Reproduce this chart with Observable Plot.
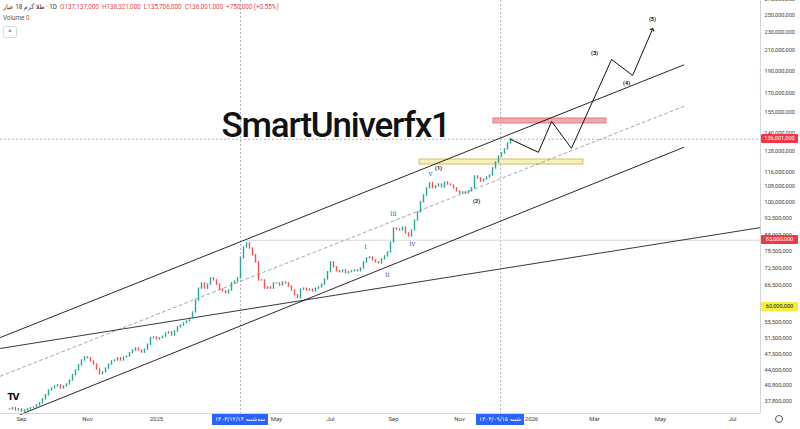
<!DOCTYPE html>
<html><head><meta charset="utf-8">
<script src="https://cdn.jsdelivr.net/npm/d3@7"></script>
<script src="https://cdn.jsdelivr.net/npm/@observablehq/plot@0.6"></script>
<style>
html,body{margin:0;padding:0;background:#fff;}
#wrap{position:relative;width:800px;height:429px;overflow:hidden;font-family:Roboto,"DejaVu Sans",sans-serif;}
#wrap svg{display:block;}
.ov{position:absolute;white-space:nowrap;}
.tag{position:absolute;left:761px;width:37px;height:9px;line-height:9px;font-size:5.6px;text-align:center;border-radius:1px;}
.dlab{position:absolute;top:414px;height:11px;line-height:11px;font-size:5.8px;color:#fff;background:#2962ff;text-align:center;padding:0 3px;font-family:"DejaVu Sans",sans-serif;}
</style></head><body><div id="wrap"></div>
<script>
// ---- data (prices in millions) ----
const firstSession = 3;
const closes = [36.3,36.5,36.1,36.3,35.9,36.1,36.3,36.5,36.6,37.0,
37.4,38.1,38.9,39.8,40.2,40.6,40.8,40.2,40.6,41.0,
41.8,42.9,43.9,45.0,46.1,46.8,46.6,45.9,45.2,44.1,
43.1,43.5,44.3,45.2,45.9,46.1,46.6,46.1,46.8,47.0,
47.8,48.4,48.9,48.4,47.9,48.6,49.8,51.4,51.6,51.1,
51.4,51.8,52.6,52.9,52.1,53.1,54.2,54.7,55.3,55.8,
56.6,58.3,61.8,65.5,67.2,65.5,66.8,68.9,68.2,66.8,
65.2,64.6,64.0,64.9,67.2,67.8,68.9,76.0,80.1,81.7,
79.7,77.1,74.5,68.2,68.2,65.5,65.9,65.5,67.2,67.2,
66.5,67.5,67.2,66.2,64.9,63.4,62.5,65.2,65.5,64.9,
65.2,64.6,65.5,65.9,66.8,68.5,71.0,74.5,72.7,71.3,
71.0,71.6,70.6,71.0,71.3,71.6,71.3,72.3,74.5,76.0,
76.3,75.2,74.5,74.1,75.6,76.7,78.2,82.1,87.9,87.5,
87.1,88.3,85.8,84.6,87.1,91.4,95.1,99.9,103.3,107.0,
109.6,107.0,108.0,109.0,107.5,110.1,109.0,108.5,107.0,105.4,
104.3,104.9,104.3,105.4,107.0,113.4,112.3,110.6,111.7,112.8,
113.9,117.9,121.4,125.0,126.9,129.4,133.3,136.0];

const yTicks = [270,250,230,210,190,170,155,140,128,116,108,100,92.5,85,78.5,72.5,66.5,55.5,51.5,47.5,44,40.8,37.8];
const xTickSessions = [7,29,52,92,110,131,153,177,198,220,244];
const xTickLabels = ["Sep","Nov","2025","May","Jul","Sep","Nov","2026","Mar","May","Jul"];
const xDomain = [0, 253.33];
const yDomain = [35.57, 268.1];

const lastClose = 136.001;
const level83 = 83;
const level60 = 60;
const crossSessions = [80, 166.7];
const crossDates = ["سه‌شنبه ۱۴۰۳/۱۲/۱۴", "شنبه ۱۴۰۴/۰۹/۱۵"];

const upperS = [0, 227.7], upperP = [51.6, 195.6];
const lowerS = [6.7, 227.7], lowerP = [35.4, 130.7];
const midS = [0, 227.7], midP = [42.7, 159.7];
const longS = [0, 253.33], longP = [48.9, 88.3];

const redZone = {s1:164.3, s2:202, p1:146.9, p2:150.6};
const yellowZone = {s1:139.7, s2:194.3, p1:120.2, p2:123.2};

const projS = [170, 179.3, 183.7, 190.3, 203.7, 210.7, 217.3];
const projP = [136.0, 127.6, 148.4, 130.1, 200.9, 185.8, 232.7];

const majorLabels = ["(1)","(2)","(3)","(4)","(5)"];
const majorS = [146, 158.7, 198, 208.7, 217.3];
const majorP = [117.9, 100.3, 206.9, 178.7, 244.3];
const minorLabels = ["i","ii","iii","iv","v"];
const minorS = [121.7, 129, 131, 137.3, 143.3];
const minorP = [80.5, 70.2, 94.6, 81.7, 115.0];

const brand = "SmartUniverfx1";
const brandS = 111.7, brandP = 145.2;

// ---- tables ----
const candles = closes.map((c,i)=>({s:firstSession+i, open: i ? closes[i-1] : c, close:c}));
const pairs = (S,P)=>S.map((s,i)=>({s, p:P[i]}));
const fmt = d3.format(",");
const xLab = new Map(xTickSessions.map((s,i)=>[s, xTickLabels[i]]));
const up = "#26a69a", down = "#ef5350";

const chart = Plot.plot({
  width: 800, height: 429,
  marginLeft: 0, marginRight: 40, marginTop: 0, marginBottom: 16,
  style: {fontFamily: "Roboto, 'DejaVu Sans', sans-serif", background: "#fff"},
  x: {type: "linear", domain: xDomain},
  y: {type: "log", domain: yDomain},
  marks: [
    Plot.ruleY([lastClose], {stroke:"#9598a1", strokeWidth:0.7, strokeDasharray:"2,2"}),
    Plot.ruleX(crossSessions, {stroke:"#9598a1", strokeWidth:0.7, strokeDasharray:"2,2"}),
    Plot.ruleY([{y:level83, x1:82, x2:xDomain[1]}], {y:"y", x1:"x1", x2:"x2", stroke:"#c9cbd1", strokeWidth:0.8}),
    Plot.rect([yellowZone], {x1:"s1", x2:"s2", y1:"p1", y2:"p2", fill:"#f7f0b8", stroke:"#c8b34a", strokeWidth:0.8}),
    Plot.rect([redZone], {x1:"s1", x2:"s2", y1:"p1", y2:"p2", fill:"#f4a7ab", stroke:"#e0707a", strokeWidth:0.8}),
    Plot.line(pairs(upperS, upperP), {x:"s", y:"p", stroke:"#111", strokeWidth:0.9}),
    Plot.line(pairs(lowerS, lowerP), {x:"s", y:"p", stroke:"#111", strokeWidth:0.9}),
    Plot.line(pairs(midS, midP), {x:"s", y:"p", stroke:"#8a8f99", strokeWidth:0.8, strokeDasharray:"3,3"}),
    Plot.line(pairs(longS, longP), {x:"s", y:"p", stroke:"#222", strokeWidth:0.9}),
    Plot.ruleX(candles, {x:"s", y1:"open", y2:"close", stroke: d => d.close >= d.open ? up : down, strokeWidth:1.4, strokeLinecap:"square"}),
    Plot.line(pairs(projS, projP), {x:"s", y:"p", stroke:"#111", strokeWidth:1, markerEnd:"arrow"}),
    Plot.text(majorLabels.map((t,i)=>({t, s:majorS[i], p:majorP[i]})), {x:"s", y:"p", text:"t", fontSize:5.5, fontWeight:"bold", fill:"#111"}),
    Plot.text(minorLabels.map((t,i)=>({t, s:minorS[i], p:minorP[i]})), {x:"s", y:"p", text:"t", fontSize:7, fill:"#3a62b8", fontFamily:"'DejaVu Serif', serif"}),
    Plot.text([{t:brand, s:brandS, p:brandP}], {x:"s", y:"p", text:"t", fontSize:35, fontWeight:500, fill:"#111", fontFamily:"Roboto, 'Liberation Sans', sans-serif"}),
    Plot.ruleX([xDomain[1]], {stroke:"#c8cad0", strokeWidth:0.8}),
    Plot.ruleY([yDomain[0]], {stroke:"#c8cad0", strokeWidth:0.8}),
    Plot.axisY({anchor:"right", ticks: yTicks, tickSize:0, tickPadding:4, fontSize:5.6, fill:"#444", tickFormat: d => fmt(Math.round(d*1e6))}),
    Plot.axisX({ticks: xTickSessions, tickSize:0, tickPadding:3, fontSize:6, fill:"#444", tickFormat: d => xLab.get(d)})
  ]
});

// tighten the brand text's tracking
d3.select(chart).selectAll("text").filter(function(){ return this.textContent === brand; }).attr("letter-spacing", "-1.2");

const wrap = document.getElementById("wrap");
wrap.appendChild(chart);
const ys = chart.scale("y"), xs = chart.scale("x");

function addTag(v, bg, color){
  const d = document.createElement("div");
  d.className = "tag";
  d.style.top = (ys.apply(v) - 4.5) + "px";
  d.style.background = bg; d.style.color = color;
  d.textContent = fmt(Math.round(v*1e6));
  wrap.appendChild(d);
}
addTag(lastClose, "#f23645", "#fff");
addTag(level83, "#f23645", "#fff");
addTag(level60, "#f5ee3d", "#222");

crossSessions.forEach((s,i)=>{
  const d = document.createElement("div");
  d.className = "dlab"; d.dir = "rtl";
  d.textContent = crossDates[i];
  wrap.appendChild(d);
  d.style.left = (xs.apply(s) - d.offsetWidth/2) + "px";
});

// header
const h = document.createElement("div");
h.className = "ov";
h.style.cssText += "left:3px;top:3px;font-size:6.3px;color:#333;";
h.innerHTML = '<span dir="rtl">طلا گرم 18 عیار</span> · 1D &nbsp;<span style="color:#e0474c">O137,137,000 &nbsp;H138,321,000 &nbsp;L135,706,000 &nbsp;C136,001,000 &nbsp;+750,000 (+0.55%)</span>';
wrap.appendChild(h);
const v = document.createElement("div");
v.className = "ov";
v.style.cssText += "left:3px;top:14px;font-size:6.3px;color:#555;";
v.innerHTML = 'Volume <span style="color:#e0474c">0</span>';
wrap.appendChild(v);
const b = document.createElement("div");
b.className = "ov";
b.style.cssText += "left:3px;top:26px;width:12px;height:10px;border:1px solid #ddd;border-radius:2px;font-size:7px;line-height:12px;text-align:center;color:#333;";
b.textContent = "^";
wrap.appendChild(b);
// TradingView logo
const tv = document.createElement("div");
tv.className = "ov";
tv.style.cssText += "left:5px;top:390px;width:16px;height:14px;background:#fff;border-radius:50%;font-size:9px;font-weight:900;line-height:14px;text-align:center;color:#111;font-family:'DejaVu Sans',sans-serif;letter-spacing:-1px;";
tv.textContent = "TV";
wrap.appendChild(tv);
// settings icon
const g = document.createElement("div");
g.className = "ov";
g.style.cssText += "left:775px;top:415px;width:6px;height:6px;border:1.2px solid #555;border-radius:50%;";
wrap.appendChild(g);
</script>
</body></html>
